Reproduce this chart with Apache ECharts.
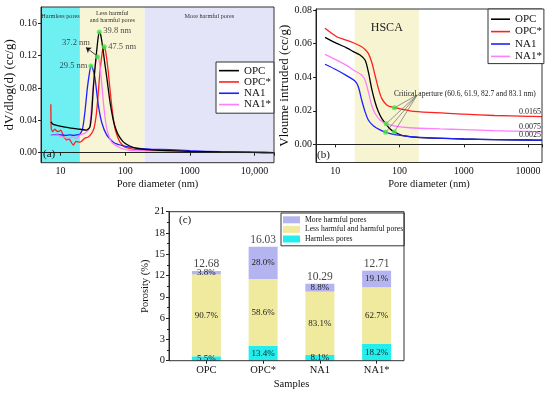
<!DOCTYPE html>
<html><head><meta charset="utf-8">
<script src="https://cdn.jsdelivr.net/npm/echarts@6/dist/echarts.min.js"></script>
<style>html,body{margin:0;padding:0;background:#fff}#c{width:550px;height:395px}</style>
</head><body><div id="c"></div>
<script>
const FONT = 'Liberation Serif';
const names = ['OPC', 'OPC*', 'NA1', 'NA1*'];

// ---- Panel (a): dV/dlog(d) vs pore diameter ----
const aOPC_d = [7.1,7.7,9.8,13.2,15.8,20,25.4,28.6,30.5,32.2,34.2,36.2,38.2,39.8,41.5,43.5,45.9,48.5,51.8,55,58.2,65.6,72,78.2,88,99.3,120,150.8,200,345,600,1000,3000,10000,20000];
const aOPC_v = [0.038,0.035,0.033,0.031,0.030,0.029,0.028,0.032,0.050,0.080,0.105,0.125,0.142,0.149,0.147,0.138,0.125,0.110,0.094,0.078,0.063,0.040,0.029,0.022,0.016,0.0116,0.008,0.0054,0.0042,0.003,0.0022,0.0016,0.0009,0.0004,0.0002];
const aOPCs_d = [7.1,7.2,7.57,8.2,8.7,9.25,10.1,11.1,12.4,13.2,14.0,15.8,17.4,20,23.9,26.9,30.3,32.9,34.5,36.2,38.5,40.8,43.5,45.5,47.5,50,52.5,54.8,58,61.8,65.5,69.5,76,83.2,95,105,130,169,250,345,1000,3000,7800,8000,8200,10000,20000];
const aOPCs_v = [0.060,0.030,0.026,0.029,0.027,0.026,0.028,0.021,0.0157,0.017,0.0157,0.0095,0.014,0.013,0.018,0.0195,0.024,0.030,0.038,0.0506,0.075,0.100,0.120,0.129,0.131,0.125,0.113,0.100,0.080,0.059,0.043,0.030,0.020,0.013,0.008,0.0062,0.0045,0.0037,0.0032,0.003,0.0018,0.0009,0.0006,0.0012,0.0006,0.0004,0.0001];
const aNA1_d = [7.1,8,9,10,12,14,16,18,20,22,23.9,26,28,29.5,31,32.5,34.2,36.3,38.4,43.2,51.8,65.6,93.7,169,250,500,1000,3000,10000,20000];
const aNA1_v = [0.022,0.022,0.0225,0.022,0.0215,0.022,0.0215,0.022,0.023,0.030,0.0506,0.0795,0.098,0.107,0.106,0.100,0.092,0.075,0.059,0.038,0.022,0.013,0.0086,0.0053,0.0045,0.0038,0.0025,0.0012,0.0004,0.0002];
const aNA1s_d = [7.1,8,9,10.1,11.5,13,14.5,16,17.5,20,23.9,27.9,30.3,32.9,35,36.5,37.8,39,41.8,46.5,51.8,61.8,83.2,118.7,200,500,1000,3000,10000,20000];
const aNA1s_v = [0.022,0.0215,0.022,0.020,0.019,0.0178,0.019,0.0195,0.0178,0.0219,0.024,0.030,0.0589,0.092,0.111,0.118,0.120,0.117,0.100,0.0589,0.030,0.013,0.0062,0.0028,0.0022,0.0018,0.0014,0.0008,0.0003,0.0001];
const aPeakD = [39.8, 47.5, 37.2, 29.5];
const aPeakV = [0.149, 0.131, 0.1185, 0.107];
const aPeakLabels = ['39.8 nm', '47.5 nm', '37.2 nm', '29.5 nm'];
const aXTickValues = [10, 100, 1000, 10000];
const aXTickLabels = ['10', '100', '1000', '10,000'];
const aYTickValues = [0, 0.04, 0.08, 0.12, 0.16];
const aBands = [[5, 20], [20, 200], [200, 20000]];
const aBandNames = ['Harmless pores', 'Less harmful\nand harmful pores', 'More harmful pores'];

// ---- Panel (b): cumulative intrusion ----
const bOPC_d = [6.9,10.5,15,19.1,24.2,29,32.6,36.7,41.4,46.7,52.7,63,72,84.8,114,208,1000,3000,10000,16500];
const bOPC_v = [0.0637,0.0601,0.0575,0.0552,0.0532,0.0502,0.0433,0.0334,0.0254,0.0195,0.0155,0.0115,0.0090,0.0072,0.0052,0.0040,0.0032,0.0028,0.0026,0.0025];
const bOPCs_d = [6.9,10.5,13.3,19.1,25.7,29,32.6,36.7,41.4,46.7,52.7,63,72,84.8,145,300,1000,3000,10000,16500];
const bOPCs_v = [0.0691,0.0641,0.0627,0.0605,0.0581,0.0565,0.0542,0.0492,0.0413,0.0334,0.0274,0.0234,0.0224,0.0218,0.0200,0.0190,0.0180,0.0172,0.0167,0.0165];
const bNA1_d = [6.9,10.5,15,20.2,22.8,25.7,29,32.6,39,49.6,61.4,90,208,1000,3000,10000,16500];
const bNA1_v = [0.0477,0.0443,0.0409,0.0377,0.0343,0.0264,0.0195,0.0145,0.0111,0.0086,0.0072,0.0056,0.0042,0.0032,0.0028,0.0026,0.0025];
const bNA1s_d = [6.9,10.5,15,19.1,25.7,29,32.6,36.7,41.4,49.6,61.4,84.8,145,425,1000,3000,10000,16500];
const bNA1s_v = [0.0536,0.0502,0.047,0.0443,0.0413,0.0383,0.0314,0.0234,0.0185,0.0145,0.0123,0.0109,0.0099,0.0092,0.0088,0.0082,0.0077,0.0075];
const bCritD = [60.6, 61.9, 82.7, 83.1];
const bCritV = [0.0072, 0.0123, 0.0074, 0.0218];
const bCritText = 'Critical aperture (60.6, 61.9, 82.7 and 83.1 nm)';
const bEndValues = [0.0165, 0.0075, 0.0025];
const bEndLabels = ['0.0165', '0.0075', '0.0025'];
const bXTickValues = [10, 100, 1000, 10000];
const bXTickLabels = ['10', '100', '1000', '10000'];
const bYTickValues = [0, 0.02, 0.04, 0.06, 0.08];
const bBand = [20, 200];

// ---- Panel (c): porosity stacked bars ----
const categories = ['OPC', 'OPC*', 'NA1', 'NA1*'];
const barNames = ['Harmless pores', 'Less harmful and harmful pores', 'More harmful pores'];
const harmless = [0.62, 2.07, 0.80, 2.40];
const lessHarmful = [11.55, 9.43, 8.93, 7.95];
const moreHarmful = [0.47, 4.57, 1.12, 2.34];
const harmlessPct = ['5.5%', '13.4%', '8.1%', '18.2%'];
const lessPct = ['90.7%', '58.6%', '83.1%', '62.7%'];
const morePct = ['3.8%', '28.0%', '8.8%', '19.1%'];
const totalsText = ['12.68', '16.03', '10.29', '12.71'];

// ---------------- build ----------------
const lineColors = ['#000000', '#ff2020', '#2020ff', '#ff7dff'];
const bandColors = ['#6ef0f2', '#f8f5d6', '#e4e4f8'];
const barColors = ['#22eeee', '#f0ea9f', '#b4b4f0'];
const green = '#3ee83e';
const pairs = (xs, ys) => xs.map((x, i) => [x, ys[i]]);
const txt = (size, extra) => Object.assign({fontFamily: FONT, fontSize: size, color: '#111'}, extra || {});

function logX(gi, min, max, tv, tl) {
  return {
    type: 'log', logBase: 10, gridIndex: gi, min: min, max: max, z: 7,
    axisLine: {show: true, lineStyle: {color: '#222', width: 1}},
    axisTick: {show: true, inside: false, length: 3, lineStyle: {color: '#222'}},
    axisLabel: txt(10, {margin: 4, formatter: v => {
      const k = tv.findIndex(t => Math.abs(t - v) / t < 1e-6);
      return k >= 0 ? tl[k] : '';
    }}),
    splitLine: {show: false},
    name: 'Pore diameter (nm)', nameLocation: 'middle', nameGap: 16,
    nameTextStyle: txt(10.5)
  };
}
function valY(gi, min, max, tv, name, gap, nsize) {
  return {
    type: 'value', gridIndex: gi, min: min, max: max, z: 7,
    axisLine: {show: true, lineStyle: {color: '#222', width: 1}},
    axisTick: {show: true, inside: false, length: 3, lineStyle: {color: '#222'}, customValues: tv},
    axisLabel: txt(10, {margin: 4, customValues: tv, formatter: v => v.toFixed(2)}),
    splitLine: {show: false},
    name: name, nameLocation: 'middle', nameGap: gap, nameTextStyle: txt(nsize)
  };
}

const aSets = [[aOPC_d, aOPC_v], [aOPCs_d, aOPCs_v], [aNA1_d, aNA1_v], [aNA1s_d, aNA1s_v]];
const bSets = [[bOPC_d, bOPC_v], [bOPCs_d, bOPCs_v], [bNA1_d, bNA1_v], [bNA1s_d, bNA1s_v]];

const series = [];
aSets.forEach((s, i) => {
  const ser = {
    type: 'line', name: names[i], xAxisIndex: 0, yAxisIndex: 0, data: pairs(s[0], s[1]),
    symbol: 'none', smooth: 0.2, z: 3 + (i === 0 ? 1 : 0),
    lineStyle: {color: lineColors[i], width: 1.3}, itemStyle: {color: lineColors[i]}
  };
  if (i === 0) {
    ser.markArea = {silent: true, data: aBands.map((b, k) => [
      {xAxis: b[0], itemStyle: {color: bandColors[k]}}, {xAxis: b[1]}
    ])};
  }
  series.push(ser);
});
const peakLabelLayout = [
  {position: 'right', distance: 1.5, offset: [0, -1]},
  {position: 'right', distance: 1.5},
  {position: 'left', distance: 5, offset: [0, -14]},
  {position: 'left', distance: 1}
];
series.push({
  type: 'scatter', xAxisIndex: 0, yAxisIndex: 0, z: 6, symbolSize: 5,
  itemStyle: {color: green},
  data: aPeakD.map((d, i) => ({value: [d, aPeakV[i]], label: peakLabelLayout[i]})),
  label: txt(8.5, {show: true, color: '#222', formatter: p => aPeakLabels[p.dataIndex]}),
  markLine: {silent: true, symbol: ['none', 'arrow'], symbolSize: 5, animation: false,
    lineStyle: {color: '#111', width: 0.8, type: 'solid'}, label: {show: false},
    data: [[{coord: [35.4, 0.1206]}, {coord: [24.8, 0.130]}]]}
});

bSets.forEach((s, i) => {
  const ser = {
    type: 'line', name: names[i], xAxisIndex: 1, yAxisIndex: 1, data: pairs(s[0], s[1]),
    symbol: 'none', smooth: 0.3, z: 3,
    lineStyle: {color: lineColors[i], width: 1.3}, itemStyle: {color: lineColors[i]}
  };
  if (i === 0) {
    ser.markArea = {silent: true, data: [[{xAxis: bBand[0], itemStyle: {color: '#f7f4d2'}}, {xAxis: bBand[1]}]]};
  }
  series.push(ser);
});
series.push({
  type: 'scatter', xAxisIndex: 1, yAxisIndex: 1, z: 6, symbolSize: 5,
  itemStyle: {color: green}, data: pairs(bCritD, bCritV),
  markLine: {silent: true, symbol: 'none', animation: false,
    lineStyle: {color: '#555', width: 0.6, type: 'solid'}, label: {show: false},
    data: bCritD.map((d, i) => [{coord: [188, 0.0294]}, {coord: [d, bCritV[i]]}])}
});

const segs = [harmless, lessHarmful, moreHarmful];
const segPct = [harmlessPct, lessPct, morePct];
segs.forEach((arr, k) => {
  series.push({
    type: 'bar', name: barNames[k], xAxisIndex: 2, yAxisIndex: 2, stack: 'por',
    barWidth: 29, data: arr.slice(),
    itemStyle: {color: barColors[k]},
    label: txt(9, {show: true, position: 'inside', color: '#222', formatter: p => segPct[k][p.dataIndex]})
  });
});
series.push({
  type: 'scatter', xAxisIndex: 2, yAxisIndex: 2, symbolSize: 0, z: 6,
  data: categories.map((c, i) => harmless[i] + lessHarmful[i] + moreHarmful[i]),
  label: txt(11.5, {show: true, position: 'top', distance: 1, color: '#111', formatter: p => totalsText[p.dataIndex]})
});

const legendBase = {orient: 'vertical', selectedMode: false, borderColor: '#333', borderWidth: 1,
  borderRadius: 0, backgroundColor: '#fff', itemGap: 0, z: 8};

// panel (c) frame box and the category grid inside it
const cFrame = {left: 169, top: 211.7, width: 235, height: 149};
const cGridLeft = 178;

const option = {
  animation: false,
  textStyle: {fontFamily: FONT},
  grid: [
    {left: 41, top: 7, width: 233, height: 155.7, show: true, borderColor: '#333', borderWidth: 1, backgroundColor: 'transparent', z: 7},
    {left: 316, top: 9, width: 226, height: 153.5, show: true, borderColor: '#333', borderWidth: 1, backgroundColor: 'transparent', z: 7},
    {left: cGridLeft, top: cFrame.top, width: 227, height: cFrame.height}
  ],
  xAxis: [
    logX(0, 5, 20000, aXTickValues, aXTickLabels),
    logX(1, 5, 16500, bXTickValues, bXTickLabels),
    {type: 'category', gridIndex: 2, data: categories, boundaryGap: true, z: 7,
     axisLine: {show: false},
     axisTick: {show: true, length: 3, alignWithLabel: true, lineStyle: {color: '#222'}},
     axisLabel: txt(10.5, {margin: 4}),
     splitLine: {show: false},
     name: 'Samples', nameLocation: 'middle', nameGap: 18, nameTextStyle: txt(10.5)}
  ],
  yAxis: [
    valY(0, -0.0123, 0.18, aYTickValues, 'dV/dlog(d) (cc/g)', 23, 13),
    valY(1, -0.0108, 0.0806, bYTickValues, 'Vloume intruded (cc/g)', 24, 13),
    {type: 'value', gridIndex: 2, min: 0, max: 21, interval: 3, z: 7, offset: cGridLeft - cFrame.left,
     axisLine: {show: true, lineStyle: {color: '#222'}},
     axisTick: {show: true, length: 3, lineStyle: {color: '#222'}},
     minorTick: {show: true, splitNumber: 2, length: 2, lineStyle: {color: '#222'}},
     axisLabel: txt(10.5, {margin: 4}),
     splitLine: {show: false},
     name: 'Porosity (%)', nameLocation: 'middle', nameGap: 12, nameTextStyle: txt(10.5)}
  ],
  legend: [
    Object.assign({}, legendBase, {data: names, left: 216, top: 62, icon: 'rect', itemWidth: 20, itemHeight: 1.6,
      padding: [3, 3, 3, 3], textStyle: txt(11, {lineHeight: 11.3})}),
    Object.assign({}, legendBase, {data: names, left: 488, top: 9, icon: 'rect', itemWidth: 19, itemHeight: 1.6,
      padding: [4, 2, 1, 3], textStyle: txt(11, {lineHeight: 12.4})}),
    Object.assign({}, legendBase, {data: barNames.slice().reverse(), left: 281, top: 213, icon: 'rect',
      itemWidth: 17, itemHeight: 7, padding: [2, 1, 2, 2], textStyle: txt(7.7, {lineHeight: 9.6})})
  ],
  series: series
};

const chart = echarts.init(document.getElementById('c'), null, {renderer: 'canvas', devicePixelRatio: 1});
chart.setOption(option);

// annotation texts (positioned from data where they are tied to data)
const g = [];
const T = (text, x, y, size, align, valign, fill) => g.push({type: 'text', z: 20, x: x, y: y,
  style: {text: text, font: size + 'px "Liberation Serif"', fill: fill || '#111', textAlign: align || 'left', textVerticalAlign: valign || 'middle', lineHeight: size * 1.12}});
g.push({type: 'rect', z: 19, shape: {x: cFrame.left, y: cFrame.top, width: cFrame.width, height: cFrame.height},
  style: {fill: 'none', stroke: '#333', lineWidth: 1}});
T('(a)', 43, 154.5, 11);
T('(b)', 317, 155, 11);
T('(c)', 179, 220, 11);
aBands.forEach((b, k) => {
  const x0 = chart.convertToPixel({xAxisIndex: 0}, b[0]);
  const x1 = chart.convertToPixel({xAxisIndex: 0}, b[1]);
  T(aBandNames[k], (x0 + x1) / 2, k === 1 ? 17.3 : 16, 6.2, 'center', 'middle', '#333');
});
{
  const x0 = chart.convertToPixel({xAxisIndex: 1}, bBand[0]);
  const x1 = chart.convertToPixel({xAxisIndex: 1}, bBand[1]);
  T('HSCA', (x0 + x1) / 2, 28, 12, 'center', 'middle', '#222');
}
T(bCritText, 394, 94.5, 7.5, 'left', 'middle', '#222');
bEndValues.forEach((v, i) => {
  const y = chart.convertToPixel({yAxisIndex: 1}, v);
  T(bEndLabels[i], 541, y - 0.5, 8, 'right', 'bottom', '#222');
});
chart.setOption({graphic: g});
</script>
</body></html>
